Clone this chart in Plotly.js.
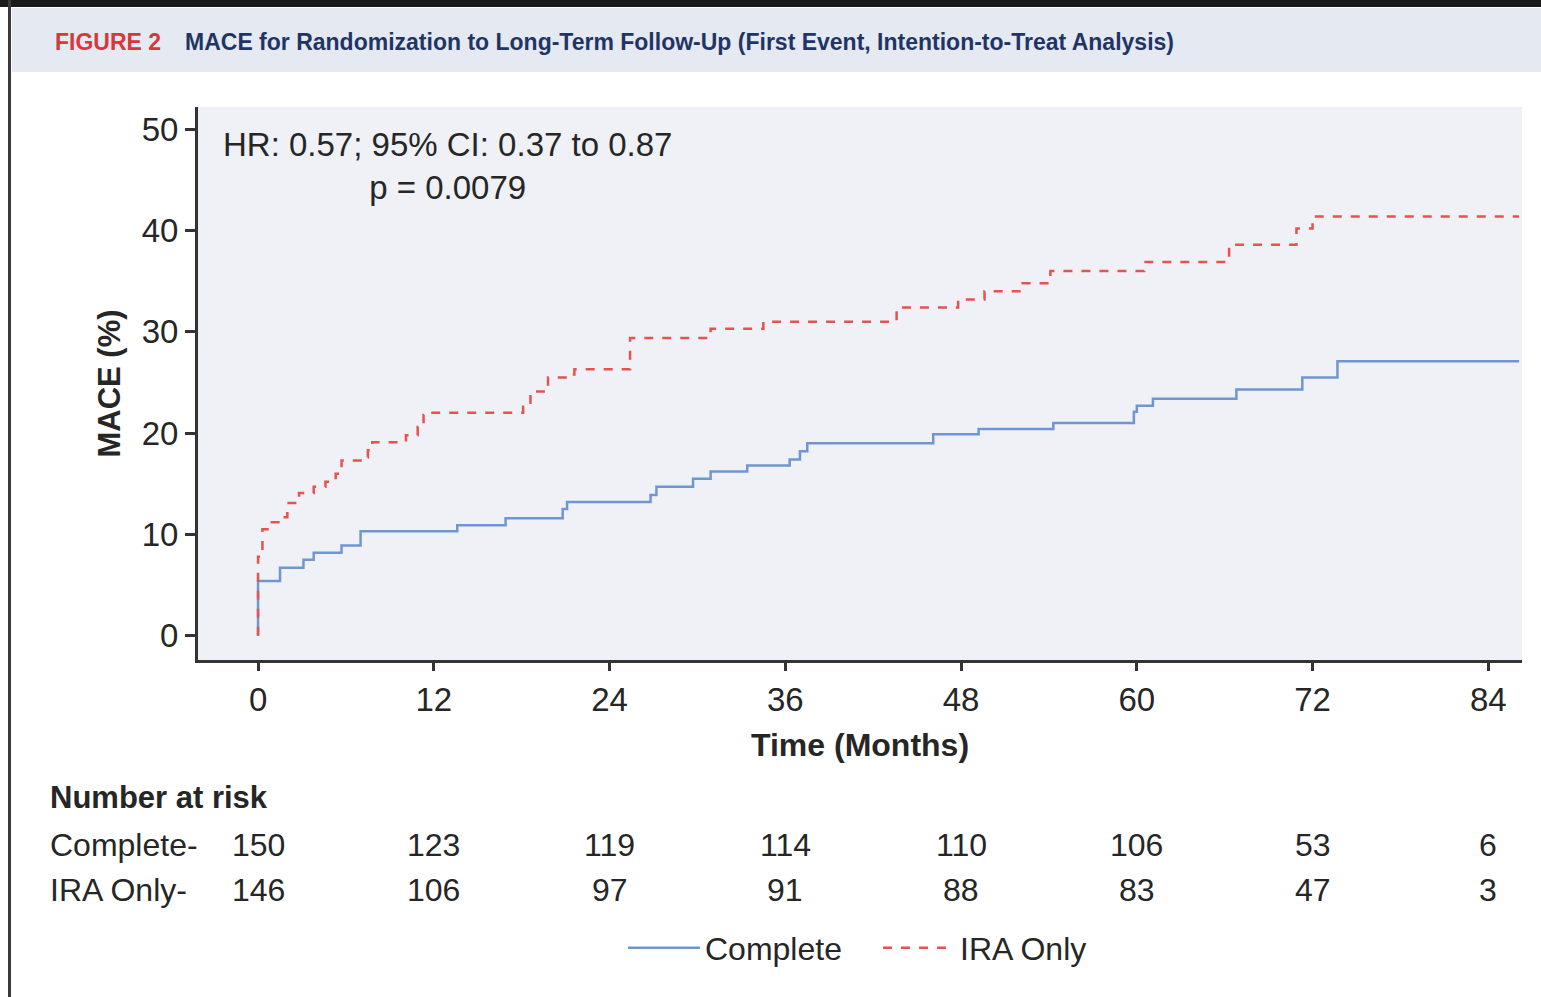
<!DOCTYPE html>
<html>
<head>
<meta charset="utf-8">
<script src="https://cdn.plot.ly/plotly-3.0.1.min.js"></script>
<style>
html,body{margin:0;padding:0;background:#ffffff;}
#chart{width:1541px;height:997px;}
</style>
</head>
<body>
<div id="chart"></div>
<script>
// ---- Data ----
const completeMonths = [0, 0, 1.5, 3.1, 3.8, 5.7, 7.0, 13.6, 16.9, 20.8, 21.1, 26.8, 27.2, 29.7, 30.9, 33.4, 36.3, 37.0, 37.5, 46.1, 49.2, 54.3, 59.8, 60.0, 61.1, 66.8, 71.3, 73.7, 86.1];
const completeMace   = [0, 5.4, 6.7, 7.5, 8.2, 8.9, 10.3, 10.9, 11.6, 12.5, 13.2, 13.9, 14.7, 15.5, 16.2, 16.8, 17.4, 18.2, 19.0, 19.9, 20.4, 21.0, 22.1, 22.7, 23.4, 24.3, 25.5, 27.1, 27.1];

const iraMonths = [0, 0, 0.3, 0.8, 1.5, 2.0, 2.8, 3.8, 4.6, 5.3, 5.7, 7.0, 7.5, 7.8, 10.1, 10.9, 11.3, 11.5, 18.1, 18.6, 19.8, 21.2, 21.6, 25.4, 30.9, 34.5, 43.6, 47.8, 49.6, 52.2, 54.1, 60.5, 66.3, 70.9, 72.0, 86.1];
const iraMace   = [0, 7.8, 10.5, 11.2, 11.7, 13.1, 14.1, 14.7, 15.2, 16.0, 17.3, 17.6, 18.3, 19.1, 19.8, 20.6, 21.8, 22.0, 22.6, 24.1, 25.5, 25.8, 26.3, 29.4, 30.3, 31.0, 32.4, 33.2, 34.0, 34.8, 36.0, 36.9, 38.6, 40.2, 41.4, 41.4];

const xTicks = [0, 12, 24, 36, 48, 60, 72, 84];
const yTicks = [0, 10, 20, 30, 40, 50];
const riskTimes = [0, 12, 24, 36, 48, 60, 72, 84];
const riskComplete = [150, 123, 119, 114, 110, 106, 53, 6];
const riskIra = [146, 106, 97, 91, 88, 83, 47, 3];
const seriesNames = ["Complete", "IRA Only"];
const riskRowLabels = ["Complete-", "IRA Only-"];

// ---- Layout helpers (pixel -> paper) ----
const W = 1541, H = 997, L = 198, R = 19, T = 107, B = 337;
const PW = W - L - R, PH = H - T - B;
const px = x => (x - L) / PW;
const py = y => (H - B - y) / PH;

const FONT = "Liberation Sans, Arial, sans-serif";
const TXT = "#262626";

const traces = [
  {
    x: completeMonths, y: completeMace, name: seriesNames[0],
    type: "scatter", mode: "lines",
    line: {shape: "hv", color: "#7096cf", width: 2.5}
  },
  {
    x: iraMonths, y: iraMace, name: seriesNames[1],
    type: "scatter", mode: "lines",
    line: {shape: "hv", color: "#e5524f", width: 2.5, dash: "dash"}
  }
];

const annotations = [
  {xref: "paper", yref: "paper", x: px(53), y: py(42), xanchor: "left", yanchor: "middle",
   text: "<b>FIGURE 2</b>", showarrow: false, font: {family: FONT, size: 23, color: "#d8383b"}},
  {xref: "paper", yref: "paper", x: px(183), y: py(42), xanchor: "left", yanchor: "middle",
   text: "<b>MACE for Randomization to Long-Term Follow-Up (First Event, Intention-to-Treat Analysis)</b>",
   showarrow: false, font: {family: FONT, size: 23, color: "#1f3566"}},
  {xref: "paper", yref: "paper", x: px(447), y: py(166), xanchor: "center", yanchor: "middle",
   text: "HR: 0.57; 95% CI: 0.37 to 0.87<br>p = 0.0079", align: "center",
   showarrow: false, font: {family: FONT, size: 33, color: TXT}},
  {xref: "paper", yref: "paper", x: px(48), y: py(797), xanchor: "left", yanchor: "middle",
   text: "<b>Number at risk</b>", showarrow: false, font: {family: FONT, size: 31, color: TXT}},
  {xref: "paper", yref: "paper", x: px(48), y: py(845), xanchor: "left", yanchor: "middle",
   text: riskRowLabels[0], showarrow: false, font: {family: FONT, size: 32, color: TXT}},
  {xref: "paper", yref: "paper", x: px(48), y: py(890), xanchor: "left", yanchor: "middle",
   text: riskRowLabels[1], showarrow: false, font: {family: FONT, size: 32, color: TXT}}
];
riskTimes.forEach((t, i) => {
  annotations.push({xref: "x", yref: "paper", x: t, y: py(845), xanchor: "center", yanchor: "middle",
    text: String(riskComplete[i]), showarrow: false, font: {family: FONT, size: 32, color: TXT}});
  annotations.push({xref: "x", yref: "paper", x: t, y: py(890), xanchor: "center", yanchor: "middle",
    text: String(riskIra[i]), showarrow: false, font: {family: FONT, size: 32, color: TXT}});
});

const shapes = [
  // header band
  {type: "rect", xref: "paper", yref: "paper", x0: px(12), x1: px(1541), y0: py(72), y1: py(8),
   fillcolor: "#e5e9f2", line: {width: 0}, layer: "below"},
  // top dark border
  {type: "rect", xref: "paper", yref: "paper", x0: px(0), x1: px(1541), y0: py(7), y1: py(0),
   fillcolor: "#1a1a1a", line: {width: 0}},
  // left border
  {type: "rect", xref: "paper", yref: "paper", x0: px(8), x1: px(11), y0: py(997), y1: py(0),
   fillcolor: "#3a3a3a", line: {width: 0}}
];

const layout = {
  width: W, height: H,
  margin: {l: L, r: R, t: T, b: B, pad: 0},
  paper_bgcolor: "#ffffff",
  plot_bgcolor: "#eff1f7",
  font: {family: FONT, size: 31, color: TXT},
  showlegend: true,
  legend: {orientation: "h", x: px(878), xanchor: "center", y: py(948), yanchor: "middle",
           font: {family: FONT, size: 32, color: TXT}, bgcolor: "rgba(0,0,0,0)",
           itemwidth: 72, entrywidth: 168, entrywidthmode: "pixels"},
  xaxis: {
    range: [-4.1, 86.3], tickvals: xTicks, ticktext: xTicks.map(String),
    showline: true, linecolor: "#333333", linewidth: 3,
    ticks: "outside", ticklen: 8, tickwidth: 3, tickcolor: "#333333",
    showgrid: false, zeroline: false, automargin: false,
    tickfont: {family: FONT, size: 33, color: TXT},
    title: {text: "<b>Time (Months)</b>", standoff: 18, font: {family: FONT, size: 32, color: TXT}}
  },
  yaxis: {
    range: [-2.4, 52.2], tickvals: yTicks, ticktext: yTicks.map(String),
    showline: true, linecolor: "#333333", linewidth: 3,
    ticks: "outside", ticklen: 10, tickwidth: 3, tickcolor: "#333333",
    showgrid: false, zeroline: false, automargin: false,
    tickfont: {family: FONT, size: 33, color: TXT},
    title: {text: "<b>MACE (%)</b>", standoff: 12, font: {family: FONT, size: 31, color: TXT}}
  },
  annotations: annotations,
  shapes: shapes
};

Plotly.newPlot("chart", traces, layout, {displayModeBar: false, staticPlot: true});
</script>
</body>
</html>
